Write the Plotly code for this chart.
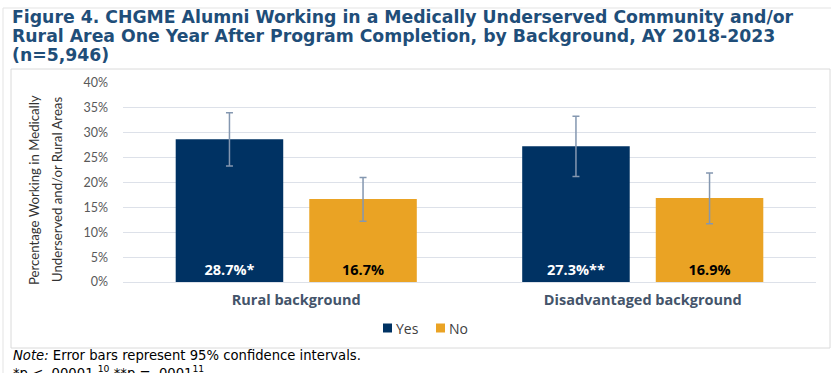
import plotly.graph_objects as go

# ---- data -------------------------------------------------------------
categories = ["Rural background", "Disadvantaged background"]
series_names = ["Yes", "No"]
yes_values = [28.7, 27.3]
no_values = [16.7, 16.9]
yes_marks = ["*", "**"]
no_marks = ["", ""]
yes_ci_low = [23.3, 21.2]
yes_ci_high = [34.0, 33.3]
no_ci_low = [12.2, 11.7]
no_ci_high = [21.0, 21.9]
y_ticks = [0, 5, 10, 15, 20, 25, 30, 35, 40]
y_tick_labels = ["0%", "5%", "10%", "15%", "20%", "25%", "30%", "35%", "40%"]

title_lines = [
    "Figure 4. CHGME Alumni Working in a Medically Underserved Community and/or",
    "Rural Area One Year After Program Completion, by Background, AY 2018-2023",
    "(n=5,946)",
]
y_title_lines = ["Percentage Working in Medically", "Underserved and/or Rural Areas"]
note_lines = [
    "<i>Note:</i> Error bars represent 95% confidence intervals.",
    "*p < .00001.<sup>10</sup> **p = .0001<sup>11</sup>",
]

# ---- styling ------------------------------------------------------------
W, H = 831, 373
M_L, M_R, M_T, M_B = 123, 15, 83, 91
PLOT_W = W - M_L - M_R
PLOT_H = H - M_T - M_B

NAVY = "#003263"
GOLD = "#EAA324"
ERR = "#8497B0"
GRID = "#DDE1E9"
TITLE_BLUE = "#1F4E79"
AXIS_TXT = "#44546A"
LEGEND_TXT = "#404040"


def px_x(x):
    """Pixel column -> paper x."""
    return (x - M_L) / PLOT_W


def px_y(y):
    """Pixel row -> paper y."""
    return (H - M_B - y) / PLOT_H


def labels(values, marks):
    return [f"{v:.1f}%{m}" for v, m in zip(values, marks)]


def ci_errors(values, lo, hi):
    plus = [h - v for v, h in zip(values, hi)]
    minus = [v - l for v, l in zip(values, lo)]
    return plus, minus


fig = go.Figure()

series = [
    (series_names[0], yes_values, yes_marks, yes_ci_low, yes_ci_high, NAVY, "white"),
    (series_names[1], no_values, no_marks, no_ci_low, no_ci_high, GOLD, "black"),
]
for name, vals, marks, lo, hi, color, txt_color in series:
    plus, minus = ci_errors(vals, lo, hi)
    fig.add_trace(go.Bar(
        name=name,
        x=categories,
        y=vals,
        marker=dict(color=color, line=dict(width=0)),
        text=labels(vals, marks),
        textposition="inside",
        insidetextanchor="start",
        constraintext="none",
        textangle=0,
        textfont=dict(family="Open Sans", size=14.5, color=txt_color, weight="bold"),
        error_y=dict(type="data", symmetric=False, array=plus, arrayminus=minus,
                     color=ERR, thickness=1.5, width=3.5),
        hoverinfo="skip",
        showlegend=False,
    ))

fig.update_layout(
    width=W, height=H,
    margin=dict(l=M_L, r=M_R, t=M_T, b=M_B, autoexpand=False),
    paper_bgcolor="white",
    plot_bgcolor="white",
    barmode="group",
    bargap=0.229,
    bargroupgap=0.195,
    font=dict(family="Lato"),
)

fig.update_yaxes(
    range=[0, 40],
    tickmode="array",
    tickvals=y_ticks,
    ticktext=y_tick_labels,
    showgrid=True, gridcolor=GRID, gridwidth=1,
    zeroline=True, zerolinecolor=GRID, zerolinewidth=1,
    showline=False,
    ticks="",
    ticklabelstandoff=14,
    tickfont=dict(family="Lato", size=12.5, color="#595959"),
)
fig.update_xaxes(
    showline=False,
    ticks="",
    ticklabelstandoff=7,
    tickfont=dict(family="Open Sans", size=14.5, color=AXIS_TXT, weight="bold"),
)

# legend: colour swatch + series name for each series
legend_x = [383, 436]
for (name, *_rest), lx in zip(series, legend_x):
    color = _rest[4]
    fig.add_shape(type="rect", xref="paper", yref="paper",
                  x0=px_x(lx), x1=px_x(lx + 9), y0=px_y(332.5), y1=px_y(323.5),
                  line=dict(width=0), fillcolor=color)
    fig.add_annotation(xref="paper", yref="paper", x=px_x(lx + 11), y=px_y(328),
                       xanchor="left", yanchor="middle", showarrow=False,
                       text=name,
                       font=dict(family="Open Sans", size=14, color=LEGEND_TXT))

# chart frame and page rules
fig.add_shape(type="rect", xref="paper", yref="paper",
              x0=px_x(11), x1=px_x(830), y0=px_y(348), y1=px_y(69),
              line=dict(color="#DADADA", width=1), fillcolor="rgba(0,0,0,0)",
              layer="below")
fig.add_shape(type="line", xref="paper", yref="paper",
              x0=px_x(3), x1=px_x(831), y0=px_y(8), y1=px_y(8),
              line=dict(color="#E3E3E3", width=1))
fig.add_shape(type="line", xref="paper", yref="paper",
              x0=px_x(3), x1=px_x(3), y0=px_y(8), y1=px_y(373),
              line=dict(color="#E3E3E3", width=1))

# title, one annotation per line
for line, ty in zip(title_lines, [17, 36, 55]):
    fig.add_annotation(
        xref="paper", yref="paper", x=px_x(10), y=px_y(ty),
        xanchor="left", yanchor="middle", align="left", showarrow=False,
        text=f"<b>{line}</b>",
        font=dict(family="DejaVu Sans", size=17.3, color=TITLE_BLUE),
    )

# y-axis title (two rotated lines)
for line, tx in zip(y_title_lines, [34, 57]):
    fig.add_annotation(
        xref="paper", yref="paper", x=px_x(tx), y=px_y(190),
        xanchor="center", yanchor="middle", showarrow=False, textangle=-90,
        text=line,
        font=dict(family="Lato", size=13.2, color="#333333"),
    )

# footnotes below the chart frame
for line, ny in zip(note_lines, [355, 372]):
    fig.add_annotation(
        xref="paper", yref="paper", x=px_x(11), y=px_y(ny),
        xanchor="left", yanchor="middle", showarrow=False, align="left",
        text=line,
        font=dict(family="DejaVu Sans", size=13.2, color="#000000"),
    )

fig.write_html("out.html")
